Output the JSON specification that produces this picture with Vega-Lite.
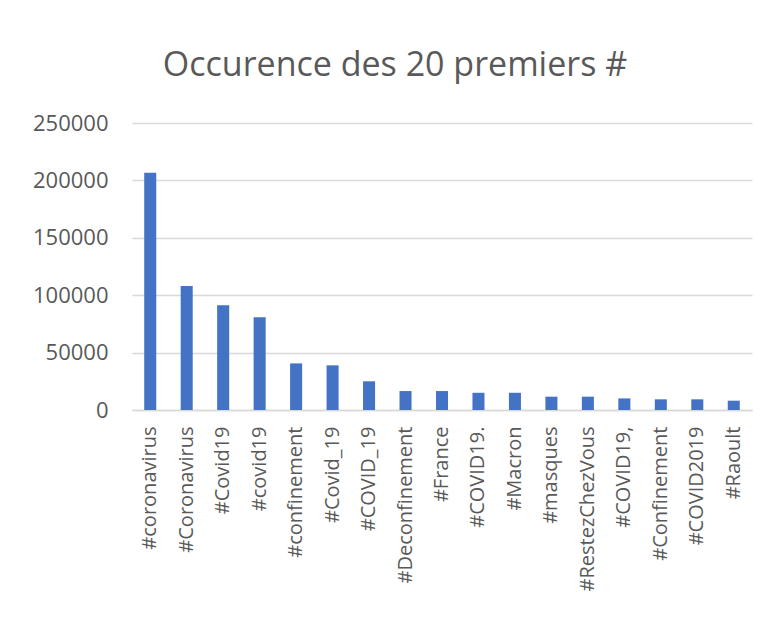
{
  "$schema": "https://vega.github.io/schema/vega-lite/v6.json",
  "width": 620,
  "height": 287,
  "autosize": {"type": "none"},
  "padding": {"left": 132, "top": 123, "right": 16, "bottom": 207},
  "background": "white",
  "title": {
    "text": "Occurence des 20 premiers #",
    "font": "Open Sans",
    "fontSize": 34,
    "fontWeight": "normal",
    "color": "#595959",
    "anchor": "middle",
    "dx": -47,
    "offset": 29
  },
  "config": {
    "view": {"stroke": null},
    "axis": {
      "labelFont": "Open Sans",
      "labelColor": "#595959",
      "title": null,
      "ticks": false,
      "domain": false
    }
  },
  "data": {
    "values": [
      {"hashtag": "#coronavirus", "count": 206700},
      {"hashtag": "#Coronavirus", "count": 108100},
      {"hashtag": "#Covid19", "count": 91300},
      {"hashtag": "#covid19", "count": 80900},
      {"hashtag": "#confinement", "count": 40600},
      {"hashtag": "#Covid_19", "count": 38900},
      {"hashtag": "#COVID_19", "count": 25000},
      {"hashtag": "#Deconfinement", "count": 16500},
      {"hashtag": "#France", "count": 16500},
      {"hashtag": "#COVID19.", "count": 15000},
      {"hashtag": "#Macron", "count": 15000},
      {"hashtag": "#masques", "count": 11600},
      {"hashtag": "#RestezChezVous", "count": 11600},
      {"hashtag": "#COVID19,", "count": 10100},
      {"hashtag": "#Confinement", "count": 9300},
      {"hashtag": "#COVID2019", "count": 9300},
      {"hashtag": "#Raoult", "count": 8100}
    ]
  },
  "mark": {"type": "bar", "color": "#4472C4"},
  "encoding": {
    "x": {
      "field": "hashtag",
      "type": "nominal",
      "sort": null,
      "scale": {"paddingInner": 0.67, "paddingOuter": 0.335},
      "axis": {
        "labelAngle": -90,
        "labelFontSize": 20,
        "labelPadding": 16,
        "domain": true,
        "domainColor": "#D9D9D9",
        "domainWidth": 1.5,
        "labelAlign": "right",
        "labelBaseline": "middle"
      }
    },
    "y": {
      "field": "count",
      "type": "quantitative",
      "scale": {"domain": [0, 250000]},
      "axis": {
        "values": [0, 50000, 100000, 150000, 200000, 250000],
        "format": "d",
        "labelFontSize": 22,
        "labelPadding": 24,
        "grid": true,
        "gridColor": "#D9D9D9",
        "gridWidth": 1.5
      }
    }
  }
}
